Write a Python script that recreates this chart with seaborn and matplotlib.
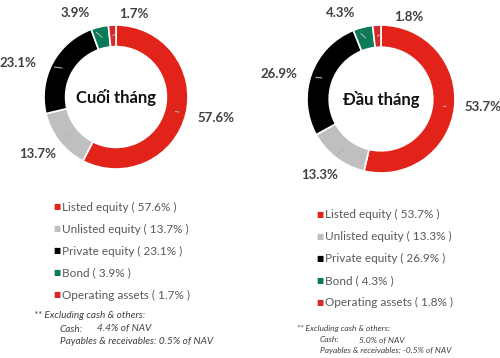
import numpy as np
import matplotlib
matplotlib.use("Agg")
import matplotlib.pyplot as plt
import seaborn as sns

sns.set_theme(style="white")
plt.rcParams["font.family"] = ["Lato", "DejaVu Sans"]

# ── data ──────────────────────────────────────────────────────────────────────
categories = ["Listed equity", "Unlisted equity", "Private equity", "Bond", "Operating assets"]
end_month = [57.6, 13.7, 23.1, 3.9, 1.7]     # Cuối tháng
start_month = [53.7, 13.3, 26.9, 4.3, 1.8]   # Đầu tháng
titles = ["Cuối tháng", "Đầu tháng"]
cash = ["4.4%", "5.0%"]
payables = ["0.5%", "-0.5%"]

COLORS = ["#E2231A", "#BFBFBF", "#000000", "#0B7A58", "#D42A2A"]
LBL = "#404040"
LEG = "#595959"
W, H = 500, 358


def px_axes(fig, x0, y0, w, h):
    return fig.add_axes([x0 / W, 1 - (y0 + h) / H, w / W, h / H])


def donut(fig, vals, title, box, center, R, nudge, rscale):
    x0, y0, w, h = box
    ax = px_axes(fig, x0, y0, w, h)
    wedges, _ = ax.pie(vals, colors=COLORS, startangle=90, counterclock=False,
                       radius=1, wedgeprops=dict(width=0.3, edgecolor="white", linewidth=1.2))
    cx, cy = center[0] - x0, center[1] - y0
    ax.set_xlim(-cx / R, (w - cx) / R)
    ax.set_ylim(-(h - cy) / R, cy / R)
    ax.set_aspect("equal")
    ax.axis("off")
    for wdg, v, dn, rs in zip(wedges, vals, nudge, rscale):
        mid = np.deg2rad((wdg.theta1 + wdg.theta2) / 2)
        lab = mid + np.deg2rad(dn)
        ax.annotate(f"{v:.1f}%", xy=(0.85 * np.cos(mid), 0.85 * np.sin(mid)),
                    xytext=(rs * np.cos(lab), rs * np.sin(lab)),
                    ha="center", va="center", fontsize=9.5, fontweight="bold", color=LBL,
                    arrowprops=dict(arrowstyle="-", color="#B0B0B0", lw=0.8,
                                    shrinkA=11, shrinkB=0))
    ax.text(0, 0, title, ha="center", va="center", fontsize=12, fontweight="bold",
            color="#111111")


fig = plt.figure(figsize=(W / 100, H / 100), dpi=100, facecolor="white")

donut(fig, end_month, titles[0], (0, 0, 250, 190), (116, 97), 72,
      [2, -2, 9, 13, -15], [1.42, 1.35, 1.45, 1.3, 1.18])
donut(fig, start_month, titles[1], (250, 0, 250, 190), (381, 99), 74,
      [2, -2, 6, 11, -22], [1.38, 1.32, 1.42, 1.28, 1.17])

# ── legends ───────────────────────────────────────────────────────────────────
def legend(vals, x, y, step, fs):
    for i, (c, cat, v) in enumerate(zip(COLORS, categories, vals)):
        yy = y + i * step
        fig.text(x / W, 1 - yy / H, "■", color=c, fontsize=5.5, va="center",
                 family="DejaVu Sans")
        fig.text((x + 9) / W, 1 - yy / H, f"{cat} ( {v}% )", color=LEG, fontsize=fs,
                 va="center")

legend(end_month, 53, 207, 22, 8.5)
legend(start_month, 316, 214, 22.2, 8.5)

# ── footnotes ─────────────────────────────────────────────────────────────────
def foot(x, y, dx, step, fs, cash_v, pay_v, cash_x):
    kw = dict(style="italic", color=LBL, fontsize=fs, va="center")
    fig.text(x / W, 1 - y / H, "** Excluding cash & others:", **kw)
    fig.text((x + dx) / W, 1 - (y + step) / H, "Cash:", **kw)
    fig.text(cash_x / W, 1 - (y + step) / H, f"{cash_v} of NAV", **kw)
    fig.text((x + dx) / W, 1 - (y + 2 * step) / H,
             f"Payables & receivables: {pay_v} of NAV", **kw)

foot(34, 316, 26, 13, 7.2, cash[0], payables[0], 97)
foot(297, 328, 23, 11.5, 6, cash[1], payables[1], 359)

fig.savefig("out.png", dpi=100, facecolor="white")
